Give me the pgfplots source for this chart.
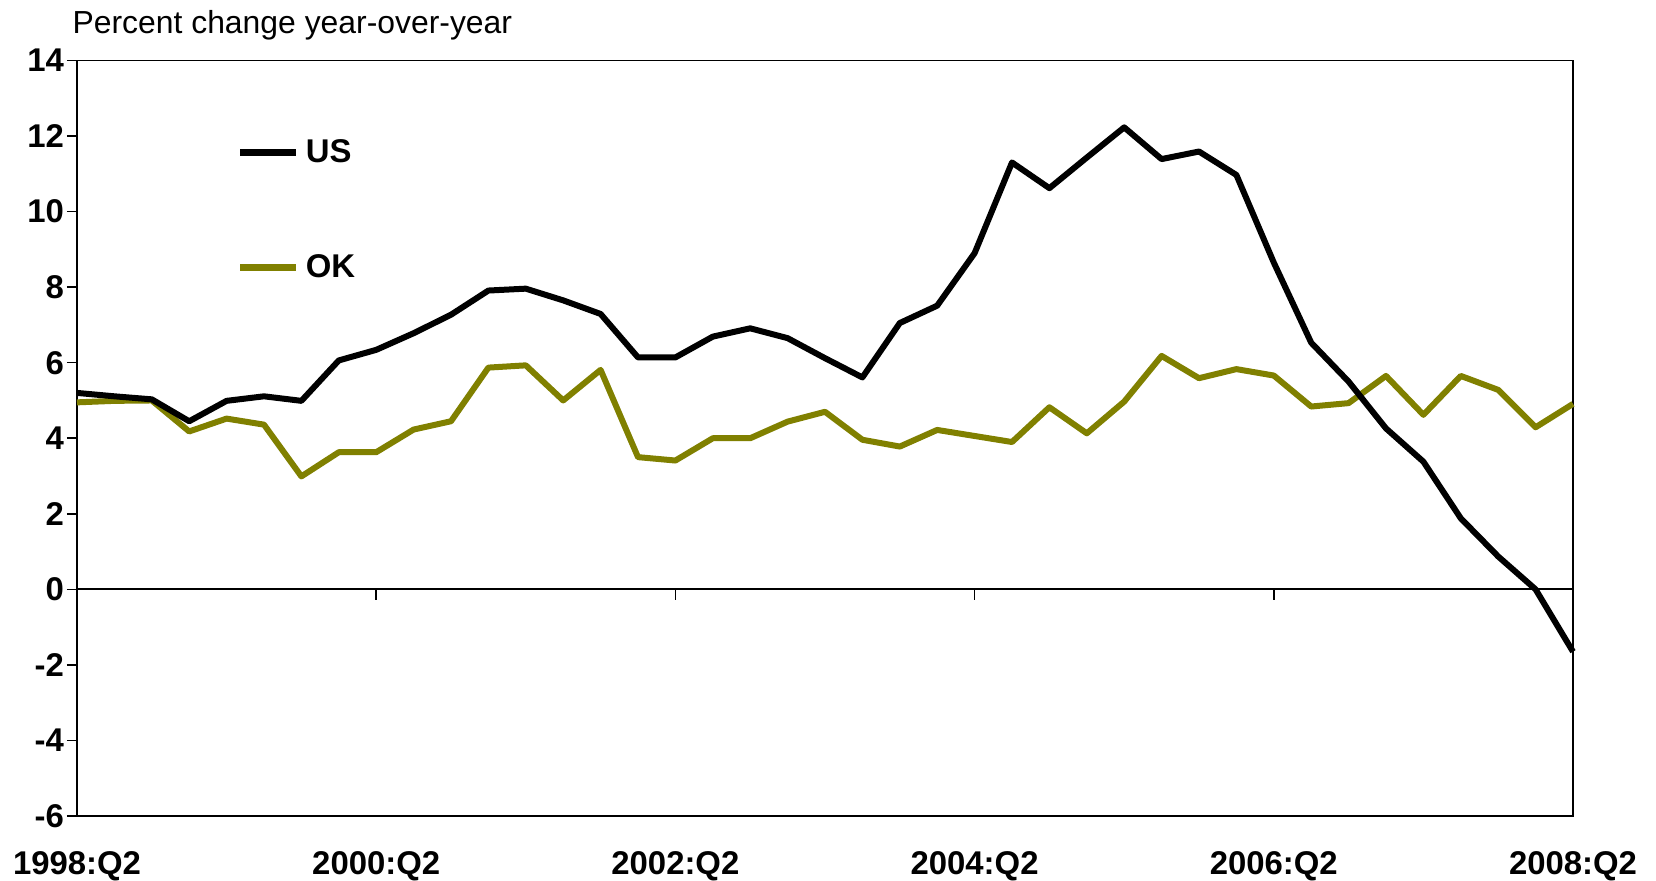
\documentclass[border=0pt]{standalone}
\usepackage{pgfplots}
\pgfplotsset{compat=1.18}
\usepackage{pgfplotstable}
\usepackage{fontspec}
\setmainfont{Liberation Sans}
\definecolor{okcol}{RGB}{128,128,0}
\pgfplotstableread{
q us ok
0 5.20 4.95
1 5.11 4.99
2 5.03 5.00
3 4.45 4.18
4 4.99 4.52
5 5.11 4.36
6 4.99 2.99
7 6.06 3.63
8 6.34 3.63
9 6.78 4.23
10 7.27 4.45
11 7.91 5.87
12 7.96 5.93
13 7.65 5.00
14 7.29 5.81
15 6.14 3.50
16 6.14 3.41
17 6.69 4.00
18 6.91 4.00
19 6.65 4.44
20 6.12 4.70
21 5.61 3.96
22 7.05 3.78
23 7.51 4.22
24 8.90 4.06
25 11.30 3.90
26 10.62 4.82
27 11.43 4.13
28 12.23 4.97
29 11.39 6.18
30 11.59 5.59
31 10.97 5.83
32 8.65 5.66
33 6.53 4.84
34 5.50 4.93
35 4.26 5.65
36 3.38 4.62
37 1.88 5.65
38 0.87 5.28
39 0.00 4.29
40 -1.65 4.91
}\datatable
\begin{document}
\begin{tikzpicture}
\begin{axis}[
  at={(0,0)}, anchor=south west,
  scale only axis,
  width=748bp, height=377.75bp,
  xmin=0, xmax=40, ymin=-6, ymax=14,
  clip=false,
  axis line style={line width=0.75bp},
  xtick={0,8,16,24,32,40},
  xticklabels={1998:Q2,2000:Q2,2002:Q2,2004:Q2,2006:Q2,2008:Q2},
  xtick style={draw=none},
  ytick={-6,-4,...,14},
  ytick pos=left,
  tick align=outside,
  major tick length=5bp,
  ytick style={line width=0.75bp,black},
  /pgf/number format/assume math mode=true,
  ticklabel style={font=\bfseries\fontsize{16.5}{19}\selectfont},
  yticklabel style={xshift=2bp},
  xticklabel style={yshift=-9bp},
  legend style={at={(0.1064,0.899)}, anchor=north west, draw=none, fill=none,
    inner sep=0pt, row sep=42.7bp, font=\bfseries\fontsize{16.5}{19}\selectfont,
    nodes={inner sep=1bp}},
  legend cell align=left,
  reverse legend,
  legend image code/.code={\draw[#1,line cap=butt,line width=3.6bp] (0bp,0bp) -- (28bp,0bp);},
]
\draw[line width=1bp] (axis cs:0,0) -- (axis cs:40,0);
\pgfplotsinvokeforeach{8,16,24,32}{\draw[line width=0.75bp] (axis cs:#1,0) -- ++(0bp,-5.5bp);}
\addplot[okcol, line width=3bp, line join=round] table[x=q,y=ok]{\datatable};
\addlegendentry{\hspace{2bp}OK}
\addplot[black, line width=3bp, line join=round] table[x=q,y=us]{\datatable};
\addlegendentry{\hspace{2bp}US}
\node[anchor=base west, font=\fontsize{16}{19}\selectfont] at ([shift={(-5.7bp,13.6bp)}]rel axis cs:0,1) {Percent change year-over-year};
\end{axis}
\pgfresetboundingbox
\path[use as bounding box] (-38.5bp,-32.5bp) rectangle (789.5bp,408bp);
\end{tikzpicture}
\end{document}
